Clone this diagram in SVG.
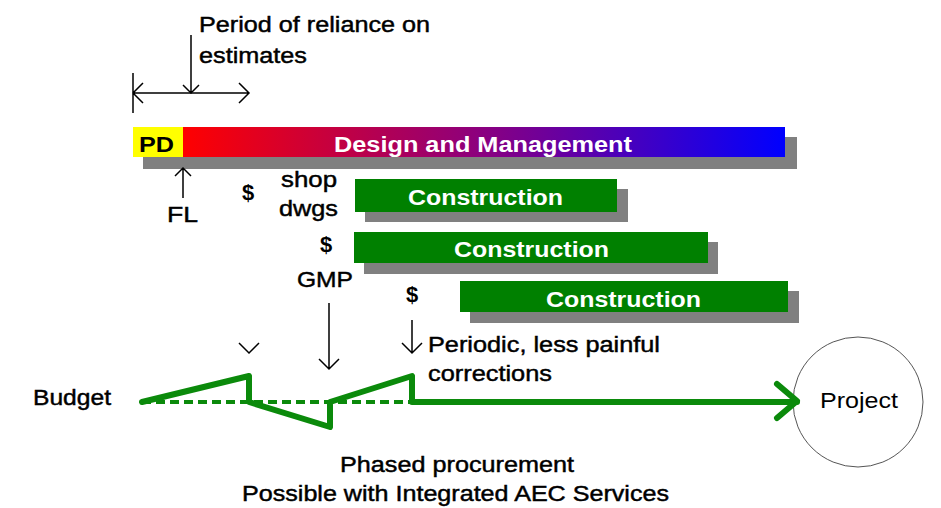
<svg xmlns="http://www.w3.org/2000/svg" width="941" height="508" viewBox="0 0 941 508">
<style>
text{font-family:"Liberation Sans",Arial,sans-serif;font-size:22px;fill:#000}
.r{stroke:#000;stroke-width:0.45}
.b{font-weight:bold}
.w{fill:#fff;font-weight:bold}
.sh{fill:#808080}
.cb{fill:#008000}
.ln{stroke:#000;stroke-width:1.5;fill:none}
.g{stroke:#0b8a0b;stroke-width:6;fill:none;stroke-linejoin:round;stroke-linecap:round}
</style>
<defs>
<linearGradient id="dm" x1="0" x2="1" y1="0" y2="0">
<stop offset="0" stop-color="#ff0000"/>
<stop offset="0.5" stop-color="#8a0080"/>
<stop offset="1" stop-color="#0000ff"/>
</linearGradient>
</defs>
<rect width="941" height="508" fill="#fff"/>
<g id="reliance">
<text class="r" x="199" y="32" textLength="231" lengthAdjust="spacingAndGlyphs">Period of reliance on</text>
<text class="r" x="199" y="63" textLength="108" lengthAdjust="spacingAndGlyphs">estimates</text>
</g>
<g id="design-bar">
<rect class="sh" x="143" y="137" width="654" height="32"/>
<rect x="183" y="127" width="602" height="30" fill="url(#dm)"/>
<text class="w" x="334" y="152" textLength="298" lengthAdjust="spacingAndGlyphs">Design and Management</text>
</g>
<g id="pd">
<rect x="133" y="127" width="50" height="30" fill="#ffff00"/>
<text class="b" x="139" y="152" textLength="35" lengthAdjust="spacingAndGlyphs">PD</text>
</g>
<g id="construction1">
<rect class="sh" x="365" y="189" width="263" height="33"/>
<rect class="cb" x="355" y="179" width="262" height="33"/>
<text class="w" x="408" y="205" textLength="155" lengthAdjust="spacingAndGlyphs">Construction</text>
</g>
<g id="construction2">
<rect class="sh" x="364" y="242" width="354" height="32"/>
<rect class="cb" x="354" y="232" width="354" height="31"/>
<text class="w" x="454" y="257" textLength="155" lengthAdjust="spacingAndGlyphs">Construction</text>
</g>
<g id="construction3">
<rect class="sh" x="470" y="291" width="329" height="32"/>
<rect class="cb" x="460" y="281" width="328" height="31"/>
<text class="w" x="546" y="307" textLength="155" lengthAdjust="spacingAndGlyphs">Construction</text>
</g>
<g id="labels">
<text class="r" x="167" y="222" textLength="31" lengthAdjust="spacingAndGlyphs">FL</text>
<text class="b" x="242" y="200" font-size="20">$</text>
<text class="r" x="281" y="187" textLength="56" lengthAdjust="spacingAndGlyphs">shop</text>
<text class="r" x="279" y="216" textLength="59" lengthAdjust="spacingAndGlyphs">dwgs</text>
<text class="b" x="320" y="252" font-size="20">$</text>
<text class="r" x="297" y="287" textLength="56" lengthAdjust="spacingAndGlyphs">GMP</text>
<text class="b" x="406" y="302" font-size="20">$</text>
<text class="r" x="428" y="352" textLength="232" lengthAdjust="spacingAndGlyphs">Periodic, less painful</text>
<text class="r" x="428" y="381" textLength="124" lengthAdjust="spacingAndGlyphs">corrections</text>
<text class="r" x="33" y="405" textLength="78" lengthAdjust="spacingAndGlyphs">Budget</text>
<text class="r" x="340" y="472" textLength="234" lengthAdjust="spacingAndGlyphs">Phased procurement</text>
<text class="r" x="242" y="501" textLength="427" lengthAdjust="spacingAndGlyphs">Possible with Integrated AEC Services</text>
</g>
<g id="project">
<circle cx="858" cy="402" r="65" fill="#fff" stroke="#555" stroke-width="1"/>
<text x="820" y="408" textLength="78" lengthAdjust="spacingAndGlyphs">Project</text>
</g>
<g id="connectors">
<path class="ln" d="M133 73V113M133 93H249M143 83L133 93L143 103M239 83L249 93L239 103"/>
<path class="ln" d="M191 35V93M183 85L191 93L199 85"/>
<path class="ln" d="M183 198V168M175 176L183 168L191 176"/>
<path class="ln" d="M239 343L249 353L259 343"/>
<path class="ln" d="M329 303V369M319 359L329 369L339 359"/>
<path class="ln" d="M412 320V353M402 343L412 353L422 343"/>
<path d="M142 402H412" stroke="#0b8a0b" stroke-width="4" stroke-dasharray="9 5" fill="none"/>
<path class="g" d="M142 402L249 376V402L330 427V402L412 376V402H797"/>
<path class="g" d="M777 384L797 401L777 418"/>
</g>
</svg>
